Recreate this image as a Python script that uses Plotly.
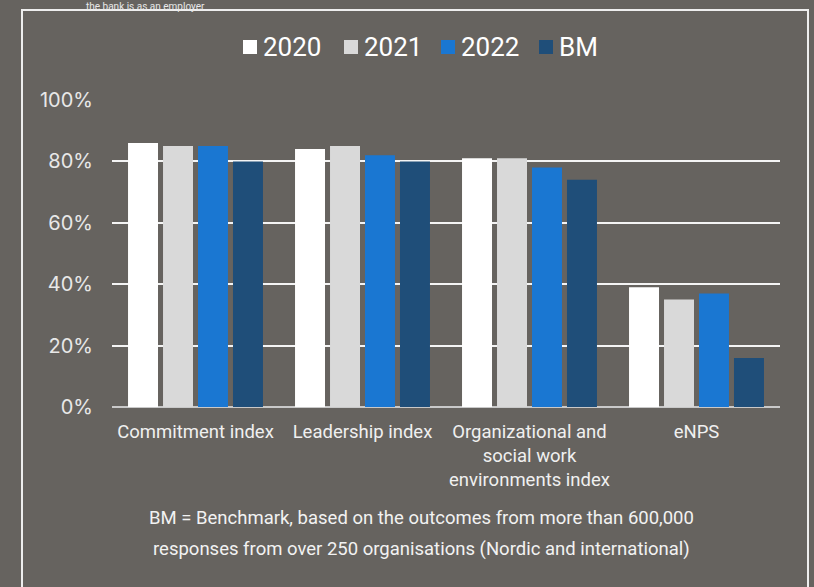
import plotly.graph_objects as go

categories = ["Commitment index", "Leadership index",
              "Organizational and<br>social work<br>environments index", "eNPS"]
series_names = ["2020", "2021", "2022", "BM"]
v2020 = [86, 84, 81, 39]
v2021 = [85, 85, 81, 35]
v2022 = [85, 82, 78, 37]
vbm = [80, 80, 74, 16]
colors = ["#ffffff", "#d9d9d9", "#1a77d2", "#1f4e79"]
yticks = [0, 20, 40, 60, 80, 100]
ytick_text = ["0%", "20%", "40%", "60%", "80%", "100%"]

fig = go.Figure()
for name, vals, col in zip(series_names, [v2020, v2021, v2022, vbm], colors):
    fig.add_trace(go.Bar(x=categories, y=vals, name=name, showlegend=False,
                         marker=dict(color=col, line=dict(width=0))))

L, R, T, B = 112, 34, 100, 180
W, H = 814, 587
pw, ph = W - L - R, H - T - B

def px(x):
    return (x - L) / pw

def py(y):
    return (H - B - y) / ph

fig.update_layout(
    width=W, height=H,
    margin=dict(l=L, r=R, t=T, b=B, autoexpand=False),
    paper_bgcolor="#66635f", plot_bgcolor="rgba(0,0,0,0)",
    barmode="group", bargap=0.162, bargroupgap=0.143,
    font=dict(family="Roboto", color="#f2f2f2", size=16),
    showlegend=False,
    xaxis=dict(showgrid=False, showline=False, ticks="outside", ticklen=8,
               tickcolor="rgba(0,0,0,0)", tickfont=dict(size=18.5, color="#f0f0f0"),
               range=[-0.5, 3.5], fixedrange=True),
    yaxis=dict(range=[0, 100], tickvals=yticks, ticktext=ytick_text,
               showgrid=True, gridcolor="#f4f4f4", gridwidth=2,
               zeroline=True, zerolinecolor="#c9c9c9", zerolinewidth=2,
               ticks="outside", ticklen=14, tickcolor="rgba(0,0,0,0)",
               tickfont=dict(size=20, color="#e8e8e8", family="Inter"), showline=False),
)

# border frame
fig.add_shape(type="rect", xref="paper", yref="paper",
              x0=px(22), x1=px(808), y0=py(700), y1=py(10),
              line=dict(color="#eeeeee", width=2), fillcolor="rgba(0,0,0,0)", layer="below")

# legend (manual, to match compact spacing)
legend_x = [243, 344, 441, 539]
for name, col, lx in zip(series_names, colors, legend_x):
    fig.add_shape(type="rect", xref="paper", yref="paper",
                  x0=px(lx), x1=px(lx + 14), y0=py(54), y1=py(40),
                  line=dict(width=0), fillcolor=col)
    fig.add_annotation(text=name, xref="paper", yref="paper", x=px(lx + 18), y=py(47),
                       xanchor="left", yanchor="middle", showarrow=False,
                       font=dict(size=26, color="#ffffff", family="Roboto"))

fig.add_annotation(text="the bank is as an employer", xref="paper", yref="paper",
                   x=px(85), y=py(0), xanchor="left", yanchor="top", showarrow=False,
                   borderpad=0, font=dict(size=10, color="#e8e8e8", family="Roboto"))
fig.add_annotation(text="BM = Benchmark, based on the outcomes from more than 600,000",
                   xref="paper", yref="paper", x=px(421), y=py(518), xanchor="center", yanchor="middle",
                   showarrow=False, font=dict(size=18.5, color="#f2f2f2", family="Roboto"))
fig.add_annotation(text="responses from over 250 organisations (Nordic and international)",
                   xref="paper", yref="paper", x=px(421), y=py(549), xanchor="center", yanchor="middle",
                   showarrow=False, font=dict(size=18.5, color="#f2f2f2", family="Roboto"))

fig.write_html("out.html")
